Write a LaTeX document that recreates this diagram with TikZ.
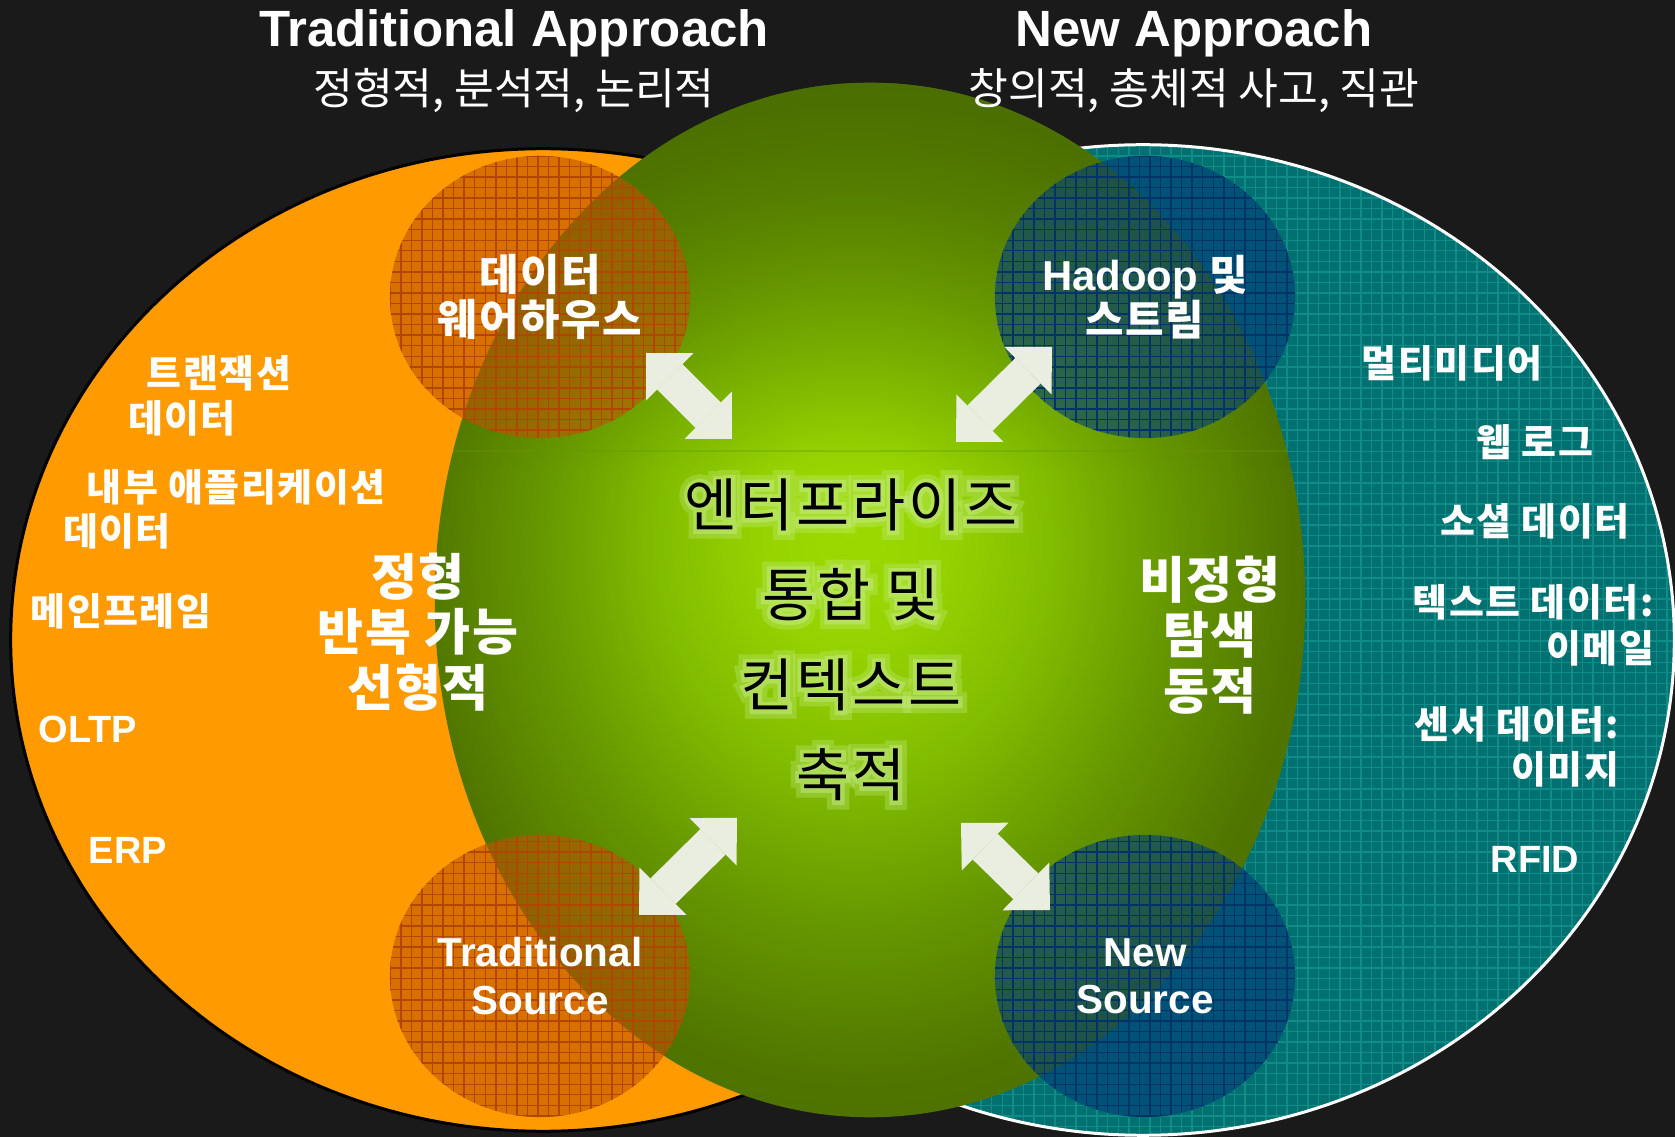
\documentclass[tikz,border=0pt]{standalone}
\usepackage{fontspec}
\setmainfont{Liberation Sans}
\newfontfamily\kr{Noto Sans CJK KR}
\newfontfamily\krs{Noto Sans CJK KR}[LetterSpace=4]
\newfontfamily\krcore{Noto Sans CJK KR}[LetterSpace=5]
\newfontface\krhaloA{Noto Sans CJK KR}[LetterSpace=5, FakeBold=14]
\newfontface\krhaloB{Noto Sans CJK KR}[LetterSpace=5, FakeBold=30]
\usepackage{tikz}
\usetikzlibrary{shapes.geometric,arrows.meta,patterns,calc,fadings}

\definecolor{slate}{HTML}{1A1A1A}
\definecolor{amber}{RGB}{255,154,0}
\definecolor{rust}{RGB}{190,85,0}
\definecolor{rustgrid}{RGB}{176,70,0}
\definecolor{lagoon}{RGB}{0,112,112}
\definecolor{lagoongrid}{RGB}{15,140,135}
\definecolor{deepblue}{RGB}{0,62,122}
\definecolor{deepgrid}{RGB}{0,52,104}
\definecolor{glowhi}{RGB}{155,218,0}
\definecolor{glowtop}{RGB}{150,212,0}
\definecolor{glowbr}{RGB}{130,190,0}
\definecolor{glowmid}{RGB}{102,152,0}
\definecolor{glowdim}{RGB}{80,118,0}
\definecolor{glowlo}{RGB}{72,106,0}
\definecolor{halo}{RGB}{200,238,140}
\definecolor{chalk}{RGB}{234,238,224}

% Mitte des Leuchtens etwas ueber der Ellipsenmitte
\pgfdeclareradialshading{greenglow}{\pgfpoint{-1.15bp}{3.4bp}}{%
    color(0bp)=(glowhi); color(5bp)=(glowtop); color(11bp)=(glowbr);
    color(18bp)=(glowmid); color(25bp)=(glowdim); color(32bp)=(glowlo); color(60bp)=(glowlo)}
\tikzfading[name=topdark, top color=transparent!20, bottom color=transparent!100]

\newcommand\hubtext{엔터프라이즈\\통합 및\\컨텍스트\\축적}

\begin{document}
\begin{tikzpicture}[x=0.01cm, y=-0.01cm,
        heading/.style={text=white, font=\bfseries\fontsize{14.5}{17}\selectfont},
        subheading/.style={text=white, font=\kr\fontsize{12.3}{14}\selectfont},
        tag/.style={text=white, inner sep=0pt, font=\krs\bfseries\fontsize{10.8}{12}\selectfont},
        latintag/.style={tag, font=\bfseries\fontsize{10.8}{12}\selectfont},
        bigtag/.style={text=white, align=center, font=\krs\bfseries\fontsize{14.2}{15.8}\selectfont},
        coretext/.style={align=center, font=\krcore\fontsize{16.4}{25.6}\selectfont},
        corehalo/.style={coretext, text=halo},
        bubble/.style={ellipse, minimum width=3cm, minimum height=2.82cm, inner sep=0pt,
            fill opacity=.6, text opacity=1, text=white, align=center},
        oldbubble/.style={bubble, fill=rust, postaction={pattern=grid, pattern color=rustgrid},
            font=\krs\bfseries\fontsize{12.2}{12.8}\selectfont},
        newbubble/.style={bubble, fill=deepblue, postaction={pattern=grid, pattern color=deepgrid},
            font=\bfseries\fontsize{11.9}{12.8}\selectfont},
        link/.style={draw=chalk, line width=10.2pt,
            {Triangle[width=19pt,length=9.6pt,line width=0pt]}-{Triangle[width=19pt,length=9.6pt,line width=0pt]}},
        seam/.style={draw=glowmid, line width=.5pt, opacity=.35}
        ]
    \useasboundingbox (0,0) rectangle (1675,1137);
    \fill[slate] (0,0) rectangle (1675,1137);

    % Ellipsen
    \draw[black, line width=.85pt, fill=amber] (543,640) ellipse [x radius=5.32cm, y radius=4.91cm];
    \draw[white, line width=.85pt, preaction={fill=lagoon}, pattern=grid, pattern color=lagoongrid]
        (1143,640) ellipse [x radius=5.31cm, y radius=4.95cm];
    \shade[shading=greenglow] (870,600) ellipse [x radius=4.35cm, y radius=5.17cm];
    \begin{scope}
        \clip (870,600) ellipse [x radius=4.35cm, y radius=5.17cm];
        \fill[glowlo, path fading=topdark] (400,83) rectangle (1340,470);
        \draw[seam] (400,451) -- (1340,451);
    \end{scope}

    % Quellen
    \node[oldbubble] (dw) at (540,297) {데이터\\웨어하우스};
    \node[newbubble] (hd) at (1145,297) {Hadoop {\krs 및}\\{\krs 스트림}};
    \node[oldbubble, font=\bfseries\fontsize{11.5}{13.4}\selectfont] (ts) at (540,976) {Traditional\\Source};
    \node[newbubble, font=\bfseries\fontsize{11.5}{13.4}\selectfont] (ns) at (1145,976) {New\\Source};

    % Pfeile
    \coordinate (w1) at (646,353);  \coordinate (w2) at (732,439);
    \coordinate (h1) at (1052,347); \coordinate (h2) at (956,442);
    \coordinate (t1) at (639,915);  \coordinate (t2) at (737,818);
    \coordinate (n1) at (1050,910); \coordinate (n2) at (961,823);
    \draw[link] (w1) -- (w2);
    \draw[link] (h1) -- (h2);
    \draw[link] (t1) -- (t2);
    \draw[link] (n1) -- (n2);

    % Ueberschriften
    \node[heading] (tA) at (514,33) {Traditional Approach};
    \node[subheading] (tB) at (514,91) {정형적, 분석적, 논리적};
    \node[heading] (nA) at (1194,33) {New Approach};
    \node[subheading] (nB) at (1194,91) {창의적, 총체적 사고, 직관};

    % Datenquellen links
    \node[tag] (l1) at (219,373) {트랜잭션};
    \node[tag] (l2) at (182,418) {데이터};
    \node[tag] (l3) at (236,487) {내부 애플리케이션};
    \node[tag] (l4) at (117,531) {데이터};
    \node[tag] (l5) at (121,611) {메인프레임};
    \node[latintag] (l6) at (88,729) {OLTP};
    \node[latintag] (l7) at (128,850) {ERP};

    % Datenquellen rechts
    \node[tag] (r1) at (1452,363) {멀티미디어};
    \node[tag] (r2) at (1535,442) {웹 로그};
    \node[tag] (r3) at (1535,521) {소셜 데이터};
    \node[tag] (r4) at (1533,602) {텍스트 데이터:};
    \node[tag] (r5) at (1600,648) {이메일};
    \node[tag] (r6) at (1517,724) {센서 데이터:};
    \node[tag] (r7) at (1565,769) {이미지};
    \node[latintag] (r8) at (1535,859) {RFID};

    \node[bigtag] (old) at (418,632) {정형\\반복 가능\\선형적};
    \node[bigtag] (new) at (1210,635) {비정형\\탐색\\동적};

    % Mitte mit Schein
    \coordinate (corepos) at (851,640);
    \node[corehalo, opacity=.3, font=\krhaloB\fontsize{16.4}{25.6}\selectfont] (haloB) at (corepos) {\hubtext};
    \node[corehalo, opacity=.45, font=\krhaloA\fontsize{16.4}{25.6}\selectfont] (haloA) at (corepos) {\hubtext};
    \node[coretext] (core) at (corepos) {\hubtext};
\end{tikzpicture}
\end{document}
